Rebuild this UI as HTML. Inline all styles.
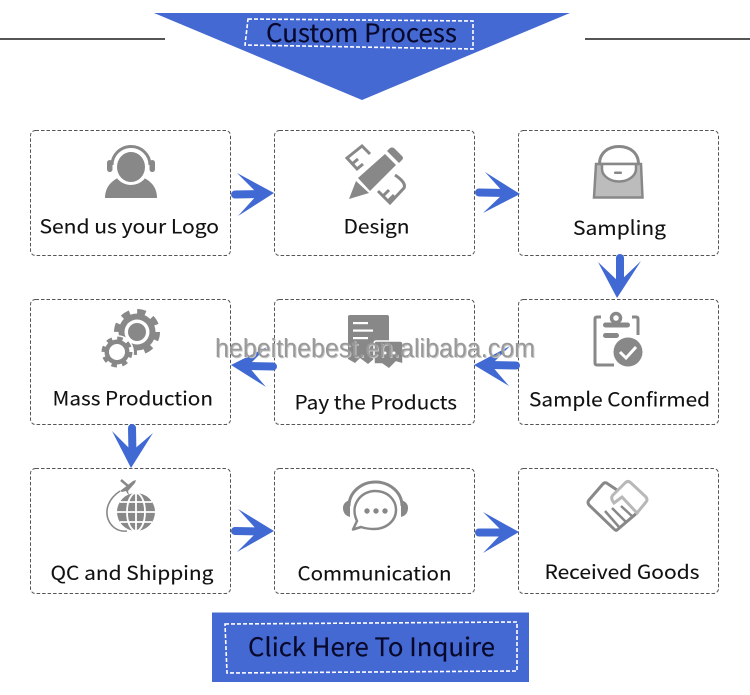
<!DOCTYPE html>
<html>
<head>
<meta charset="utf-8">
<style>
html,body{margin:0;padding:0;background:#fff;width:750px;height:695px;overflow:hidden}
svg{display:block}
text{font-family:"Noto Sans CJK SC","Liberation Sans",sans-serif;fill:#111}
.l{font-size:19.5px;stroke:#111;stroke-width:.12}
.wm{font-family:"Liberation Sans",sans-serif;font-size:25.5px;fill:#999}
.wb{font-family:"Liberation Sans",sans-serif;font-size:25.5px;fill:#c4c4c4}
.box{fill:#fff;stroke:#555;stroke-width:1;stroke-dasharray:3.5 2}
.ar{fill:#4169d3}
.sh{stroke:#4169d3;stroke-width:8;stroke-linecap:round;fill:none}
.g{fill:#888}
.o{fill:none;stroke:#888;stroke-width:3}
</style>
</head>
<body>
<svg width="750" height="695" viewBox="0 0 750 695" xmlns="http://www.w3.org/2000/svg">
<rect width="750" height="695" fill="#fff"/>

<!-- header -->
<rect x="0" y="38" width="165" height="2" fill="#555"/>
<rect x="585" y="38" width="165" height="2" fill="#555"/>
<polygon points="154,13 570,13 362,100" fill="#4469d2"/>
<polygon points="248,19 473,21 473,49 245,45" fill="none" stroke="#fff" stroke-width="1.6" stroke-dasharray="4 2"/>
<text x="266" y="42" font-size="25" textLength="191" lengthAdjust="spacingAndGlyphs" style="fill:#08082a;stroke:#08082a;stroke-width:.15">Custom Process</text>

<!-- boxes -->
<rect class="box" x="30.5" y="130.5" width="200" height="125" rx="5"/>
<rect class="box" x="274.5" y="130.5" width="200" height="125" rx="5"/>
<rect class="box" x="518.5" y="130.5" width="200" height="125" rx="5"/>
<rect class="box" x="30.5" y="299.5" width="200" height="125" rx="5"/>
<rect class="box" x="274.5" y="299.5" width="200" height="125" rx="5"/>
<rect class="box" x="518.5" y="299.5" width="200" height="125" rx="5"/>
<rect class="box" x="30.5" y="468.5" width="200" height="125" rx="5"/>
<rect class="box" x="274.5" y="468.5" width="200" height="125" rx="5"/>
<rect class="box" x="518.5" y="468.5" width="200" height="125" rx="5"/>

<!-- arrows -->
<line class="sh" x1="235" y1="194.5" x2="262" y2="194"/>
<polygon class="ar" points="274,193 237,173 258,194 238,216"/>
<line class="sh" x1="479" y1="192.5" x2="506" y2="193"/>
<polygon class="ar" points="520,194 485,172 504,193 483,213"/>
<line class="sh" x1="620" y1="258" x2="620" y2="285"/>
<polygon class="ar" points="617,298 598,262 619,282 641,261"/>
<line class="sh" x1="273" y1="366.5" x2="248" y2="366"/>
<polygon class="ar" points="231,365 267,347 248,366 266,387"/>
<line class="sh" x1="516" y1="365.5" x2="490" y2="365"/>
<polygon class="ar" points="474,365 510,346 491,365 509,386"/>
<line class="sh" x1="132" y1="428" x2="132.5" y2="455"/>
<polygon class="ar" points="131,468 112,431 132,451 153,433"/>
<line class="sh" x1="235" y1="531" x2="260" y2="531.5"/>
<polygon class="ar" points="274,531 238,509 258,531 237,552"/>
<line class="sh" x1="479" y1="532.5" x2="505" y2="532.5"/>
<polygon class="ar" points="519,532 483,512 503,532 483,553"/>

<!-- icon 1: person with headset -->
<path class="g" d="M105 198C105 186 113 179 123 176H139C149 179 157 186 157 198Z"/>
<circle cx="131" cy="167" r="18" fill="#fff"/>
<ellipse class="g" cx="131" cy="167" rx="14" ry="15"/>
<path d="M112 165A19 18.5 0 0 1 150 165" fill="none" stroke="#888" stroke-width="3"/>
<rect class="g" x="107" y="160" width="5.5" height="12" rx="2.7"/>
<rect class="g" x="149.5" y="160" width="5.5" height="12" rx="2.7"/>

<!-- icon 2: pencil and rulers -->
<polyline class="o" points="370,154 362,146 347,158 358,170"/>
<path class="o" stroke-width="2.5" d="M352 164l6-5M357 169l6-5"/>
<path class="o" d="M395 175C401 179 406 184 404 188L390 203 378 191"/>
<path class="o" stroke-width="2.5" d="M383 196l6-6M388 201l6-6"/>
<polygon class="g" points="358,178 385,154 396,165 370,191"/>
<path class="g" d="M387 151l3-3q2-1 4 0l8 8q2 2 0 4l-3 3z"/>
<polygon class="g" points="349,199 356,181 369,193"/>

<!-- icon 3: bag -->
<path d="M599.500 164C599.500 153 608 146.500 619 146.500S638.500 153 638.500 164" fill="none" stroke="#888" stroke-width="3"/>
<polygon points="596,164 641,164 642.500,197.500 594,197.500" fill="#bcbcbc" stroke="#888" stroke-width="2.500"/>
<path d="M602 164H636V169C636 176 628 181.500 619 181.500S602 176 602 169Z" fill="#fff" stroke="#888" stroke-width="2.500"/>
<rect class="g" x="614" y="171.500" width="8" height="2.500" rx="1"/>

<!-- icon 4: gears -->
<circle class="g" cx="137" cy="332" r="18.500"/>
<circle cx="137" cy="332" r="20.500" fill="none" stroke="#888" stroke-width="5" stroke-dasharray="8.500 7.600"/>
<circle cx="137" cy="332" r="12.500" fill="#fff"/>
<circle class="g" cx="137" cy="332" r="9"/>
<circle cx="117" cy="352" r="17" fill="#fff"/>
<circle class="g" cx="117" cy="352" r="12.500"/>
<circle cx="117" cy="352" r="13.500" fill="none" stroke="#888" stroke-width="4" stroke-dasharray="5.500 5.100"/>
<circle cx="117" cy="352" r="8" fill="#fff"/>

<!-- icon 5: receipts -->
<path class="g" d="M350 315H387Q389 315 389 317V358L381 362 375 358 368 364 360 358 355 363 348 359V317Q348 315 350 315Z"/>
<rect x="353" y="322" width="15" height="2.200" fill="#fff"/>
<rect x="353" y="329.500" width="20" height="2.200" fill="#fff"/>
<rect x="353" y="337" width="15" height="2.200" fill="#fff"/>
<path class="g" stroke="#fff" stroke-width="1.500" d="M376 341H400Q403 341 403 344V364L396 362 389 369 382 364 374 364V344Q374 341 376 341Z"/>
<circle cx="385" cy="353" r="1.500" fill="#fff"/>
<circle cx="394" cy="353" r="1.500" fill="#fff"/>

<!-- icon 6: clipboard -->
<path class="o" stroke-width="2.500" d="M601 317H597Q595 317 595 319V363Q595 365 597 365H614M632 317H636Q638 317 638 319V335"/>
<rect class="g" x="603" y="322.500" width="27" height="5" rx="2.500"/>
<circle cx="616" cy="318" r="4.500" fill="none" stroke="#888" stroke-width="3.500"/>
<rect class="g" x="603" y="333" width="16" height="5" rx="2.500"/>
<circle cx="628" cy="352" r="17" fill="#fff"/>
<circle class="g" cx="628" cy="352" r="14.500"/>
<polyline points="620,352 626,358 636,347" fill="none" stroke="#fff" stroke-width="3"/>

<!-- icon 7: globe -->
<circle class="g" cx="136" cy="512" r="19"/>
<path fill="none" stroke="#fff" stroke-width="1.800" d="M117 512H155M120 502H152M120 522H152M136 493V531"/>
<ellipse cx="136" cy="512" rx="9" ry="19" fill="none" stroke="#fff" stroke-width="1.800"/>
<path d="M120 491C108 499 105 510 108 519 111 527 118 532 127 531" fill="none" stroke="#888" stroke-width="1.600"/>
<path class="g" d="M120 491L133 481 136 480 135 483 128 491 129 495 127 493 126 491 122 492Z"/>
<path d="M121 480L128 486" fill="none" stroke="#888" stroke-width="2.500"/>

<!-- icon 8: communication -->
<path d="M349 506A26.500 24 0 0 1 402 506" fill="none" stroke="#888" stroke-width="3"/>
<path class="g" d="M350 500V517Q343 515 343 508 343 502 350 500Z"/>
<path class="g" d="M401 500V517Q408 515 408 508 408 502 401 500Z"/>
<path d="M357 521C349 504 362 491 375 491 388 491 396 500 396 510 396 521 386 529 374 529 368 529 364 528 361 527L353 529.500Z" fill="none" stroke="#888" stroke-width="2.500" stroke-linejoin="round"/>
<circle class="g" cx="367" cy="511" r="2.700"/>
<circle class="g" cx="376" cy="511" r="2.700"/>
<circle class="g" cx="385" cy="511" r="2.700"/>

<!-- icon 9: handshake -->
<path d="M638 512L617 530Q616 531 614 529L589 505Q587 502 589 500L602 485Q605 481 608 484L617 490" fill="none" stroke="#888" stroke-width="3"/>
<path d="M637 513L622 497 614 503Q610 498 613 495L625 483Q628 480 631 483L646 497Q648 500 646 502Z" fill="none" stroke="#b8b8b8" stroke-width="3"/>
<path d="M605 511L619 527M612 508L626 522M621 506L633 517" fill="none" stroke="#888" stroke-width="2.500"/>

<!-- labels -->
<text class="l" x="39.500" y="233.500" textLength="179.500" lengthAdjust="spacingAndGlyphs">Send us your Logo</text>
<text class="l" x="343.500" y="233.500" textLength="66" lengthAdjust="spacingAndGlyphs">Design</text>
<text class="l" x="573" y="235" textLength="93" lengthAdjust="spacingAndGlyphs">Sampling</text>
<text class="l" x="52.500" y="405.500" textLength="160.500" lengthAdjust="spacingAndGlyphs">Mass Production</text>
<text class="l" x="294.500" y="409.500" textLength="162.500" lengthAdjust="spacingAndGlyphs">Pay the Products</text>
<text class="l" x="529" y="406.500" textLength="181" lengthAdjust="spacingAndGlyphs">Sample Confirmed</text>
<text class="l" x="50.500" y="580" textLength="163" lengthAdjust="spacingAndGlyphs">QC and Shipping</text>
<text class="l" x="297.500" y="580.500" textLength="154" lengthAdjust="spacingAndGlyphs">Communication</text>
<text class="l" x="544.500" y="579" textLength="155" lengthAdjust="spacingAndGlyphs">Received Goods</text>

<!-- watermark -->
<text class="wb" x="216" y="358" textLength="320" lengthAdjust="spacingAndGlyphs">hebeithebest.en.alibaba.com</text>
<text class="wm" x="215" y="357" textLength="320" lengthAdjust="spacingAndGlyphs">hebeithebest.en.alibaba.com</text>

<!-- button -->
<rect x="212" y="612.500" width="317" height="69.500" fill="#4469d2"/>
<polygon points="225,624 517,622 517,671 227,673" fill="none" stroke="#fff" stroke-width="1.600" stroke-dasharray="4 2"/>
<text x="248" y="656" font-size="25" textLength="247" lengthAdjust="spacingAndGlyphs" style="fill:#08082a;stroke:#08082a;stroke-width:.15">Click Here To Inquire</text>
</svg>
</body>
</html>
